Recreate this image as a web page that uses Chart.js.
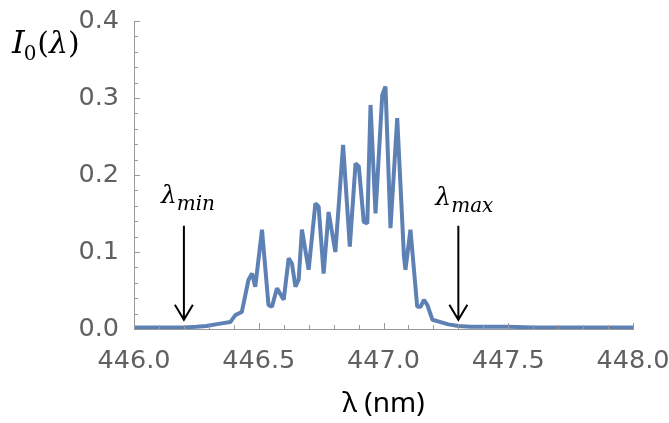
<!DOCTYPE html>
<html>
<head>
<meta charset="utf-8">
<script src="https://cdn.jsdelivr.net/npm/chart.js@4.4.1/dist/chart.umd.min.js"></script>
<style>
  html, body { margin: 0; padding: 0; background: #fff; }
  #wrap { width: 669px; height: 423px; position: relative; }
</style>
</head>
<body>
<div id="wrap"><canvas id="spec-canvas"></canvas></div>
<script>
// wavelength (nm) and intensity I0
const wavelengths = [
  446.00, 446.05, 446.10, 446.15, 446.20, 446.25, 446.29, 446.345, 446.386, 446.406,
  446.432, 446.459, 446.473, 446.486, 446.513, 446.539, 446.553, 446.573, 446.600, 446.620,
  446.633, 446.647, 446.660, 446.673, 446.700, 446.727, 446.740, 446.760, 446.780, 446.807,
  446.838, 446.865, 446.888, 446.901, 446.921, 446.935, 446.948, 446.968, 446.995, 447.008,
  447.028, 447.055, 447.082, 447.088, 447.108, 447.135, 447.149, 447.162, 447.176, 447.196,
  447.229, 447.26, 447.30, 447.35, 447.40, 447.50, 447.60, 447.70, 447.80, 447.90, 448.00
];
const intensities = [
  0.002, 0.002, 0.002, 0.002, 0.002, 0.003, 0.004, 0.007, 0.009, 0.018,
  0.022, 0.064, 0.072, 0.055, 0.129, 0.031, 0.029, 0.053, 0.038, 0.092,
  0.085, 0.055, 0.064, 0.129, 0.077, 0.163, 0.159, 0.072, 0.152, 0.100,
  0.239, 0.107, 0.215, 0.211, 0.139, 0.137, 0.291, 0.150, 0.304, 0.315,
  0.131, 0.274, 0.094, 0.077, 0.129, 0.029, 0.029, 0.038, 0.031, 0.012,
  0.009, 0.006, 0.004, 0.003, 0.003, 0.003, 0.002, 0.002, 0.002, 0.002, 0.002
];
const xTicks = [446.0, 446.5, 447.0, 447.5, 448.0];
const yTicks = [0.0, 0.1, 0.2, 0.3, 0.4];
const markerNames = ["min", "max"];
const markerValues = [446.2, 447.3];

const axisGray = "#9a9a9a";
const labelGray = "#606060";
const tickFont = { family: "'DejaVu Sans'", size: 25.5 };

// inward ticks, arrows and math labels
const decor = {
  id: "decor",
  afterDraw(chart) {
    const ctx = chart.ctx;
    const xs = chart.scales.x, ys = chart.scales.y;
    const area = chart.chartArea;
    ctx.save();
    ctx.strokeStyle = axisGray;
    ctx.lineWidth = 1;
    for (let i = 0; i <= 20; i++) {
      const v = i * 0.02;
      const y = Math.round(ys.getPixelForValue(v)) + 0.5;
      const len = i % 5 === 0 ? 6 : 4;
      ctx.beginPath();
      ctx.moveTo(area.left, y);
      ctx.lineTo(area.left + len, y);
      ctx.stroke();
    }
    for (let i = 0; i <= 20; i++) {
      const v = 446 + i * 0.1;
      const x = Math.round(xs.getPixelForValue(v)) + 0.5;
      const len = i % 5 === 0 ? 6 : 4;
      ctx.beginPath();
      ctx.moveTo(x, area.bottom);
      ctx.lineTo(x, area.bottom - len);
      ctx.stroke();
    }

    // arrows for lambda min / max
    ctx.strokeStyle = "#000";
    ctx.fillStyle = "#000";
    ctx.lineWidth = 2;
    markerValues.forEach((v, i) => {
      const x = xs.getPixelForValue(v);
      const yTop = ys.getPixelForValue(0.134);
      const yTip = ys.getPixelForValue(0.012);
      ctx.beginPath();
      ctx.moveTo(x, yTop);
      ctx.lineTo(x, yTip);
      ctx.moveTo(x - 9, yTip - 15);
      ctx.lineTo(x, yTip);
      ctx.lineTo(x + 9, yTip - 15);
      ctx.stroke();

      const base = ys.getPixelForValue(i === 0 ? 0.164 : 0.161);
      let tx = x - 23;
      ctx.textBaseline = "alphabetic";
      ctx.textAlign = "left";
      ctx.font = "italic 25px 'DejaVu Serif'";
      ctx.fillText("λ", tx, base);
      tx += ctx.measureText("λ").width;
      ctx.font = "italic 20px 'DejaVu Serif'";
      ctx.fillText(markerNames[i], tx, base + 7);
    });

    // y axis label I0(lambda)
    let lx = 12;
    const lb = 53;
    ctx.font = "italic 32px 'DejaVu Serif'";
    ctx.fillText("I", lx, lb);
    lx += ctx.measureText("I").width;
    ctx.font = "20px 'DejaVu Serif'";
    ctx.fillText("0", lx - 1, lb + 7);
    lx += ctx.measureText("0").width;
    ctx.font = "30px 'DejaVu Serif'";
    ctx.fillText("(", lx, lb);
    lx += ctx.measureText("(").width;
    ctx.font = "italic 30px 'DejaVu Serif'";
    ctx.fillText("λ", lx, lb);
    lx += ctx.measureText("λ").width;
    ctx.font = "30px 'DejaVu Serif'";
    ctx.fillText(")", lx, lb);
    ctx.restore();
  }
};

const ctx = document.getElementById("spec-canvas").getContext("2d");
const points = wavelengths.map((w, i) => ({ x: w, y: intensities[i] }));

new Chart(ctx, {
  type: "line",
  data: {
    datasets: [{
      data: points,
      borderColor: "#5e81b5",
      borderWidth: 4,
      borderJoinStyle: "bevel",
      pointRadius: 0,
      tension: 0,
      fill: false
    }]
  },
  options: {
    responsive: true,
    maintainAspectRatio: false,
    animation: false,
    events: [],
    layout: { padding: { left: 0, right: 36, top: 21, bottom: 0 } },
    plugins: { legend: { display: false }, tooltip: { enabled: false } },
    scales: {
      x: {
        type: "linear",
        min: 446, max: 448,
        afterBuildTicks: s => { s.ticks = xTicks.map(v => ({ value: v })); },
        afterFit: s => { s.height = 94; s.paddingLeft = 0; s.paddingRight = 0; },
        ticks: {
          color: labelGray,
          font: tickFont,
          padding: 9,
          maxRotation: 0,
          callback: v => v.toFixed(1)
        },
        grid: { display: false },
        border: { display: true, color: axisGray, width: 1 },
        title: {
          display: true,
          text: "λ (nm)",
          color: "#000",
          font: { family: "'Noto Sans'", size: 28 },
          padding: { top: 0, bottom: 2 }
        }
      },
      y: {
        min: 0, max: 0.4,
        afterBuildTicks: s => { s.ticks = yTicks.map(v => ({ value: v })); },
        afterFit: s => { s.width = 134; s.paddingTop = 0; s.paddingBottom = 0; },
        ticks: {
          color: labelGray,
          font: tickFont,
          padding: 7,
          callback: v => v.toFixed(1)
        },
        grid: { display: false },
        border: { display: true, color: axisGray, width: 1 }
      }
    }
  },
  plugins: [decor]
});
</script>
</body>
</html>
